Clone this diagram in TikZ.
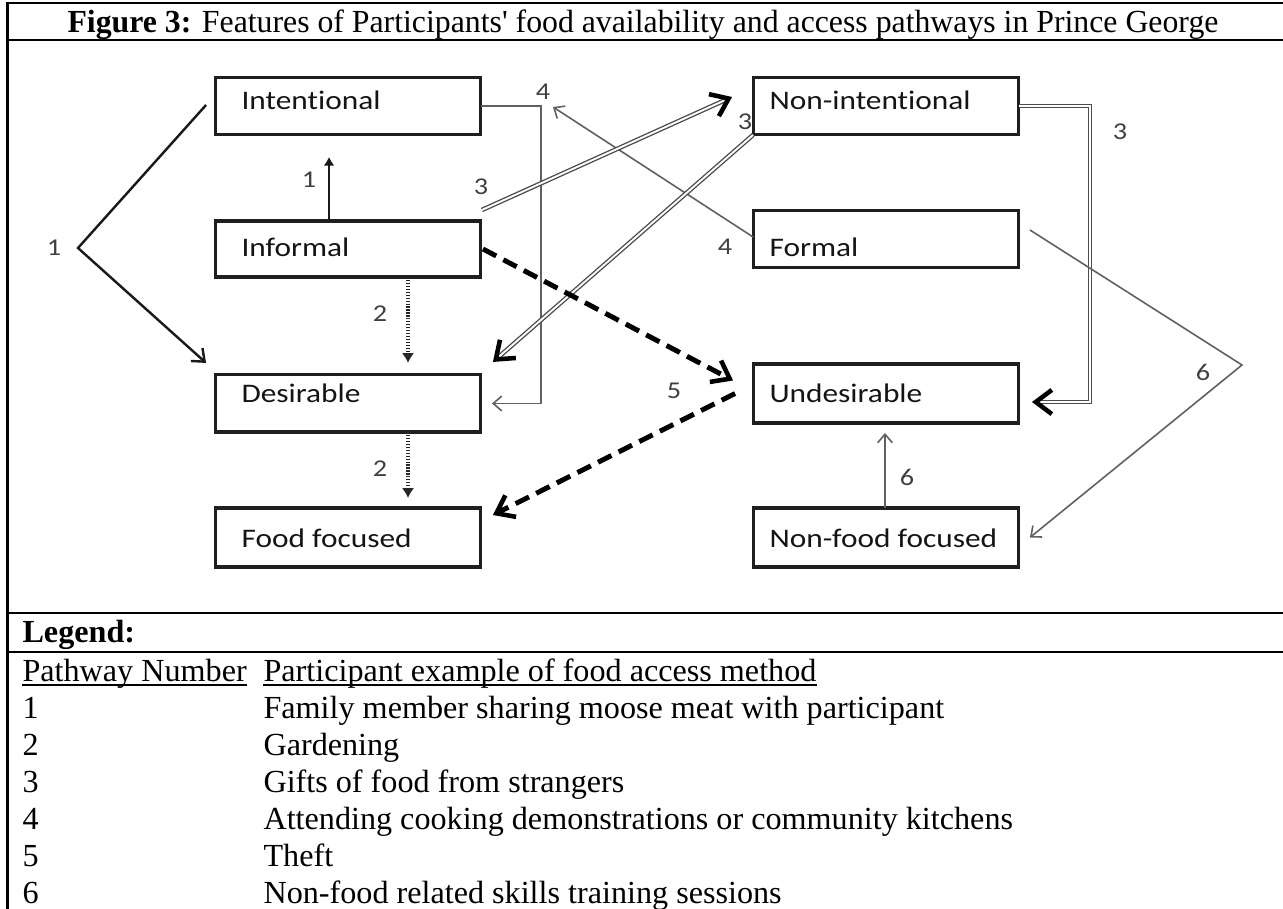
\documentclass[tikz,border=0pt]{standalone}
\usepackage{fontspec}
\setmainfont{Liberation Serif}
\newfontfamily\carlito{Carlito}[Ligatures=NoCommon]
\usepackage{graphicx}
\usetikzlibrary{arrows.meta,calc}
\newcommand\sx[1]{\scalebox{1.17}[1]{#1}}
\begin{document}
\begin{tikzpicture}[x=0.3731pt,y=-0.3731pt,
  tbl/.style={line width=0.93pt, black},
  box/.style={draw=black!88, line width=1.15pt, minimum width=99.2pt, minimum height=21.6pt, inner sep=0pt, outer sep=0pt},
  btxt/.style={anchor=base west, inner sep=0pt, font=\fontsize{10}{12}\carlito, text=black!92},
  num/.style={inner sep=0pt, font=\fontsize{9}{11}\carlito, text=black!75},
  lg/.style={anchor=base west, inner sep=0pt, font=\fontsize{12}{14}\selectfont},
  blk/.style={draw=black!90, line width=0.9pt},
  gry/.style={draw=black!62, line width=0.6pt, -{Straight Barb[length=3.2pt,width=5.5pt,line width=0.6pt]}},
  dotl/.style={draw=black!85, line width=1.15pt, dash pattern=on 0.45pt off 0.65pt, -{Latex[length=3.7pt,width=4.6pt]}},
  dbl/.style={draw=black!70, line width=0.5pt, double=white, double distance=0.7pt},
  headv/.style={draw=black!70, line width=0.4pt, -{Straight Barb[length=6pt,width=9pt,line width=1.7pt,color=black]}},
  dsh/.style={draw=black, line width=1.85pt, dash pattern=on 5.6pt off 3pt, -{Straight Barb[length=6pt,width=9pt,line width=1.7pt]}}
]
\useasboundingbox (0,0) rectangle (1283,909);

% table frame
\draw[tbl] (7.5,2) -- (7.5,909);
\draw[tbl] (6,3) -- (1283,3);
\draw[tbl] (6,40) -- (1283,40);
\draw[tbl] (6,613) -- (1283,613);
\draw[tbl] (6,652) -- (1283,652);

% title
\node[lg] (title) at (67,33) {\scalebox{0.988}[1]{\textbf{Figure 3:} Features of Participants\textquotesingle{} food availability and access pathways in Prince George}};

% boxes
\node[box] (int) at (348,106) {};
\node[box, minimum height=20.9pt] (inf) at (348,249) {};
\node[box, minimum height=21.3pt] (des) at (348,403.5) {};
\node[box, minimum height=22pt] (food) at (348,537.5) {};
\node[box] (nint) at (886,106) {};
\node[box] (form) at (886,239) {};
\node[box, minimum height=22pt] (und) at (886,393.5) {};
\node[box, minimum height=22pt] (nfood) at (886,537.5) {};

\node[btxt] (t-int) at (241,110) {\sx{Intentional}};
\node[btxt] (t-inf) at (241,257) {\sx{Informal}};
\node[btxt] (t-des) at (241,403) {\sx{Desirable}};
\node[btxt] (t-food) at (241,548) {\sx{Food focused}};
\node[btxt] (t-nint) at (769,110) {\sx{Non-intentional}};
\node[btxt] (t-form) at (769,257) {\sx{Formal}};
\node[btxt] (t-und) at (769,403) {\sx{Undesirable}};
\node[btxt] (t-nfood) at (769,548) {\sx{Non-food focused}};

% pathway 1
\coordinate (v1) at (78,248);
\draw[blk, -{Straight Barb[length=4pt,width=6.5pt,line width=0.9pt]}] ([shift={(-9,-1)}]int.west) -- (v1) -- ([shift={(-9,-12)}]des.north west);
\draw[blk, -{Latex[length=3.2pt,width=4pt]}] ([shift={(-19,0)}]inf.north) -- ([shift={(-19,22)}]int.south);

% pathway 2
\draw[dotl] ([shift={(60,0)}]inf.south) -- ([shift={(60,-12)}]des.north);
\draw[dotl] ([shift={(60,0)}]des.south) -- ([shift={(60,-10)}]food.north);

% pathway 4
\draw[gry] (int.east) -- ++(60,0) |- ([shift={(11,0)}]des.east);
\coordinate (c4) at (553,107);
\draw[gry] ([shift={(0,-2)}]form.west) -- (c4);

% pathway 3
\coordinate (s3a) at ([shift={(1,-11)}]inf.north east);
\coordinate (e3a) at ([shift={(-21,-9)}]nint.west);
\draw[dbl, shorten >=2pt] (s3a) -- (e3a);
\draw[headv] ($(e3a)!3pt!(s3a)$) -- (e3a);
\coordinate (e3b) at ([shift={(12,-13)}]des.north east);
\draw[dbl, shorten >=2pt] (nint.south west) -- (e3b);
\draw[headv] ($(e3b)!3pt!(nint.south west)$) -- (e3b);
\coordinate (e3c) at ([shift={(13,8.5)}]und.east);
\draw[dbl, shorten >=2pt] (nint.east) -- ++(71,0) |- (e3c);
\draw[headv] ([shift={(8,0)}]e3c) -- (e3c);

% pathway 5
\draw[dsh] ([shift={(2,0)}]inf.east) -- ([shift={(-20,-13)}]und.west);
\draw[dsh] ([shift={(-18,0)}]und.west) -- ([shift={(12,7)}]food.north east);

% pathway 6
\coordinate (v6) at (1242,365);
\draw[gry] ([shift={(11,-9)}]form.east) -- (v6) -- ([shift={(11,0)}]nfood.east);
\draw[gry] ([shift={(-1,0)}]nfood.north) -- ([shift={(-1,10)}]und.south);

% number labels
\node[num] (l1a) at (54,248) {\sx{1}};
\node[num] (l1b) at (309,180) {\sx{1}};
\node[num] (l2a) at (380,314) {\sx{2}};
\node[num] (l2b) at (380,469) {\sx{2}};
\node[num] (l3a) at (481,187) {\sx{3}};
\node[num] (l3b) at (745,122) {\sx{3}};
\node[num] (l3c) at (1120,132) {\sx{3}};
\node[num] (l4a) at (543,92) {\sx{4}};
\node[num] (l4b) at (725,247) {\sx{4}};
\node[num] (l5) at (674,391) {\sx{5}};
\node[num] (l6a) at (1203,372) {\sx{6}};
\node[num] (l6b) at (907,477) {\sx{6}};

% legend
\node[lg] (leg) at (22,643) {\textbf{Legend:}};
\node[lg] (h1) at (22,682) {Pathway Number};
\node[lg] (h2) at (263,682) {Participant example of food access method};
\draw[line width=0.7pt] ([yshift=-1.1pt]h1.base west) -- ([yshift=-1.1pt]h1.base east);
\draw[line width=0.7pt] ([yshift=-1.1pt]h2.base west) -- ([yshift=-1.1pt]h2.base east);
\node[lg] (n1) at (22,719) {1};
\node[lg] (d1) at (263,719) {Family member sharing moose meat with participant};
\node[lg] (n2) at (22,756) {2};
\node[lg] (d2) at (263,756) {Gardening};
\node[lg] (n3) at (22,793) {3};
\node[lg] (d3) at (263,793) {Gifts of food from strangers};
\node[lg] (n4) at (22,830) {4};
\node[lg] (d4) at (263,830) {Attending cooking demonstrations or community kitchens};
\node[lg] (n5) at (22,867) {5};
\node[lg] (d5) at (263,867) {Theft};
\node[lg] (n6) at (22,904) {6};
\node[lg] (d6) at (263,904) {Non-food related skills training sessions};
\end{tikzpicture}
\end{document}
